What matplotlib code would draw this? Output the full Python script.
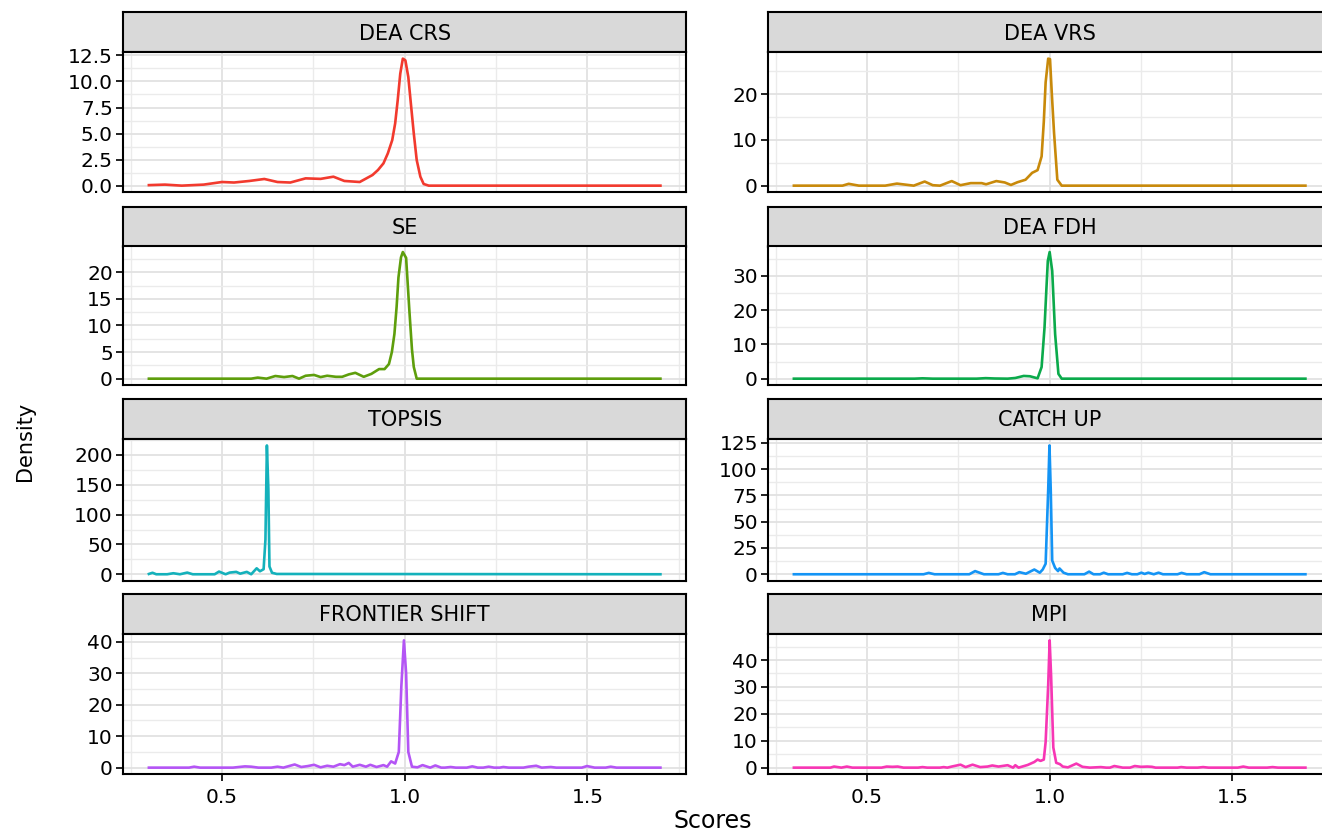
import matplotlib
matplotlib.use("Agg")
import matplotlib.pyplot as plt
from matplotlib.ticker import MultipleLocator, AutoMinorLocator, FormatStrFormatter

plt.rcParams['font.family'] = ['DejaVu Sans']

# ---------------- data ----------------
panel_names = ["DEA CRS", "DEA VRS", "SE", "DEA FDH",
               "TOPSIS", "CATCH UP", "FRONTIER SHIFT", "MPI"]
panel_colors = ["#F23A2E", "#C8890A", "#5E9E0C", "#0BAA4B",
                "#14B1BB", "#1494F5", "#B455F5", "#F736B4"]
y_steps = [2.5, 10, 5, 10, 50, 25, 10, 10]
y_formats = ["%.1f", "%d", "%d", "%d", "%d", "%d", "%d", "%d"]

crs_x = [0.30, 0.344, 0.39, 0.45, 0.50, 0.533, 0.575, 0.616, 0.652, 0.687, 0.729,
         0.77, 0.805, 0.835, 0.877, 0.912, 0.927, 0.942, 0.954, 0.966, 0.974, 0.981,
         0.988, 0.995, 1.002, 1.010, 1.017, 1.025, 1.033, 1.043, 1.052, 1.066, 1.10, 1.70]
crs_y = [0.05, 0.1, 0.0, 0.1, 0.35, 0.3, 0.45, 0.64, 0.35, 0.3, 0.7,
         0.65, 0.86, 0.45, 0.35, 1.02, 1.5, 2.14, 3.1, 4.37, 5.97, 8.2,
         10.75, 12.19, 12.03, 10.43, 7.88, 5.01, 2.46, 0.86, 0.16, 0.0, 0.0, 0.0]

vrs_x = [0.30, 0.433, 0.45, 0.478, 0.55, 0.582, 0.628, 0.658, 0.68, 0.70, 0.732,
         0.756, 0.784, 0.814, 0.826, 0.854, 0.877, 0.894, 0.912, 0.934, 0.952,
         0.967, 0.978, 0.984, 0.989, 0.996, 1.001, 1.006, 1.012, 1.021, 1.033, 1.70]
vrs_y = [0.0, 0.0, 0.4, 0.0, 0.0, 0.45, 0.0, 0.9, 0.1, 0.0, 1.0,
         0.1, 0.55, 0.55, 0.3, 1.0, 0.7, 0.15, 0.75, 1.3, 2.8,
         3.4, 6.4, 14.0, 22.6, 27.8, 27.7, 20.0, 11.6, 1.3, 0.0, 0.0]

se_x = [0.30, 0.58, 0.598, 0.622, 0.646, 0.67, 0.693, 0.711, 0.729, 0.752, 0.77,
        0.788, 0.812, 0.829, 0.847, 0.865, 0.888, 0.909, 0.93, 0.945, 0.957,
        0.965, 0.972, 0.978, 0.983, 0.990, 0.995, 1.004, 1.013, 1.020, 1.025, 1.033, 1.70]
se_y = [0.0, 0.0, 0.2, 0.0, 0.5, 0.3, 0.5, 0.0, 0.55, 0.7, 0.3,
        0.55, 0.35, 0.35, 0.8, 1.1, 0.35, 0.9, 1.8, 1.8, 2.75,
        5.0, 8.4, 13.5, 19.0, 22.8, 23.8, 22.7, 12.7, 5.5, 2.2, 0.0, 0.0]

fdh_x = [0.30, 0.63, 0.652, 0.68, 0.80, 0.825, 0.85, 0.885, 0.906, 0.929, 0.946,
         0.967, 0.978, 0.986, 0.991, 0.995, 1.0, 1.007, 1.015, 1.024, 1.033, 1.70]
fdh_y = [0.0, 0.0, 0.1, 0.0, 0.0, 0.15, 0.05, 0.0, 0.2, 0.8, 0.7,
         0.1, 3.4, 15.0, 26.0, 34.4, 37.0, 31.5, 13.0, 1.4, 0.0, 0.0]

topsis_x = [0.30, 0.31, 0.32, 0.35, 0.367, 0.385, 0.405, 0.42, 0.48, 0.492, 0.51,
            0.521, 0.539, 0.55, 0.568, 0.58, 0.595, 0.604, 0.614, 0.619, 0.623,
            0.627, 0.63, 0.637, 0.65, 1.70]
topsis_y = [0.5, 2.5, 0.0, 0.0, 1.7, 0.0, 2.8, 0.0, 0.0, 4.5, 0.0,
            2.8, 4.0, 1.0, 4.0, 0.0, 10.0, 5.0, 8.5, 58.0, 216.0,
            143.0, 13.0, 2.5, 0.5, 0.0]

catch_x = [0.30, 0.655, 0.669, 0.685, 0.78, 0.796, 0.82, 0.86, 0.872, 0.885, 0.905,
           0.917, 0.935, 0.958, 0.973, 0.981, 0.989, 0.996, 0.9995, 1.003, 1.007,
           1.015, 1.023, 1.027, 1.038, 1.05, 1.095, 1.108, 1.12, 1.138, 1.148, 1.16,
           1.20, 1.212, 1.225, 1.24, 1.251, 1.26, 1.27, 1.285, 1.298, 1.31, 1.35,
           1.361, 1.375, 1.41, 1.423, 1.44, 1.70]
catch_y = [0.0, 0.0, 1.3, 0.0, 0.0, 3.0, 0.0, 0.0, 1.3, 0.0, 0.0,
           2.0, 0.5, 4.5, 1.5, 4.5, 10.0, 80.0, 122.5, 80.0, 13.0,
           6.0, 3.0, 5.5, 1.5, 0.0, 0.0, 2.5, 0.0, 0.0, 1.5, 0.0,
           0.0, 1.3, 0.0, 0.0, 1.5, 0.3, 1.5, 0.0, 1.5, 0.0, 0.0,
           1.3, 0.0, 0.0, 2.0, 0.0, 0.0]

fs_x = [0.30, 0.41, 0.424, 0.44, 0.53, 0.563, 0.58, 0.60, 0.635, 0.652, 0.668,
        0.699, 0.717, 0.735, 0.752, 0.77, 0.788, 0.805, 0.823, 0.835, 0.847,
        0.858, 0.877, 0.894, 0.906, 0.923, 0.942, 0.952, 0.963, 0.974, 0.984,
        0.991, 0.998, 1.004, 1.010, 1.020, 1.035, 1.049, 1.07, 1.084, 1.10,
        1.11, 1.126, 1.14, 1.17, 1.185, 1.20, 1.215, 1.23, 1.245, 1.26, 1.27,
        1.285, 1.325, 1.339, 1.36, 1.375, 1.40, 1.415, 1.485, 1.499, 1.52,
        1.55, 1.564, 1.58, 1.70]
fs_y = [0.0, 0.0, 0.3, 0.0, 0.0, 0.4, 0.3, 0.0, 0.0, 0.3, 0.0,
        1.0, 0.2, 0.5, 0.9, 0.1, 0.6, 0.3, 1.1, 0.8, 1.5,
        0.3, 0.9, 0.3, 0.9, 0.2, 0.8, 0.3, 2.0, 1.3, 5.0,
        26.0, 40.5, 30.0, 5.0, 0.3, 0.1, 0.8, 0.0, 0.7, 0.0,
        0.0, 0.2, 0.0, 0.0, 0.4, 0.0, 0.0, 0.3, 0.0, 0.0, 0.2,
        0.0, 0.0, 0.3, 0.6, 0.0, 0.2, 0.0, 0.0, 0.5, 0.0,
        0.0, 0.3, 0.0, 0.0]

mpi_x = [0.30, 0.40, 0.41, 0.43, 0.445, 0.46, 0.54, 0.554, 0.57, 0.584, 0.60,
         0.64, 0.652, 0.665, 0.70, 0.71, 0.72, 0.732, 0.756, 0.77, 0.789, 0.81,
         0.83, 0.843, 0.86, 0.885, 0.90, 0.906, 0.915, 0.94, 0.958, 0.967, 0.975,
         0.984, 0.989, 0.996, 1.0, 1.004, 1.01, 1.018, 1.028, 1.036, 1.05, 1.073,
         1.09, 1.11, 1.14, 1.155, 1.165, 1.177, 1.20, 1.22, 1.233, 1.25, 1.267,
         1.28, 1.29, 1.35, 1.36, 1.375, 1.405, 1.42, 1.435, 1.515, 1.53, 1.545,
         1.595, 1.61, 1.625, 1.70]
mpi_y = [0.0, 0.0, 0.4, 0.0, 0.4, 0.0, 0.0, 0.4, 0.3, 0.4, 0.0,
         0.0, 0.2, 0.0, 0.0, 0.2, 0.0, 0.4, 1.1, 0.2, 1.1, 0.2,
         0.4, 0.8, 0.4, 0.9, 0.0, 0.9, 0.0, 1.0, 2.1, 3.0, 2.5,
         3.0, 9.5, 30.6, 47.3, 34.0, 7.5, 1.8, 1.3, 0.4, 0.1, 1.5,
         0.3, 0.0, 0.2, 0.0, 0.0, 0.6, 0.0, 0.0, 0.6, 0.3, 0.4,
         0.3, 0.0, 0.0, 0.2, 0.0, 0.0, 0.2, 0.0, 0.0, 0.4, 0.0,
         0.0, 0.2, 0.0, 0.0]

x_major_step = 0.5
x_minor_step = 0.25

series_x = [crs_x, vrs_x, se_x, fdh_x, topsis_x, catch_x, fs_x, mpi_x]
series_y = [crs_y, vrs_y, se_y, fdh_y, topsis_y, catch_y, fs_y, mpi_y]

# ---------------- layout (pixels) ----------------
W, H = 1322, 834
fig = plt.figure(figsize=(W / 100, H / 100), dpi=100)
fig.patch.set_facecolor("white")

col_left = [123.3, 768.3]
col_w = 562.7
strip_tops = [12.3, 206.7, 399.0, 594.0]
strip_h = 40.0
panel_tops = [52.3, 245.7, 439.0, 634.0]
panel_h = [139.7, 139.3, 141.7, 140.0]


def frac(x0, y0, w, h):
    return [x0 / W, 1 - (y0 + h) / H, w / W, h / H]


for i, name in enumerate(panel_names):
    r, c = divmod(i, 2)
    # strip
    ax_s = fig.add_axes(frac(col_left[c], strip_tops[r], col_w, strip_h))
    ax_s.set_facecolor("#D9D9D9")
    ax_s.set_xticks([])
    ax_s.set_yticks([])
    for sp in ax_s.spines.values():
        sp.set_linewidth(1.5)
        sp.set_color("black")
    ax_s.text(0.5, 0.47, name, ha="center", va="center", fontsize=15,
              color="black", transform=ax_s.transAxes)

    # panel
    ax = fig.add_axes(frac(col_left[c], panel_tops[r], col_w, panel_h[r]))
    ax.set_facecolor("white")
    ax.plot(series_x[i], series_y[i], color=panel_colors[i], lw=1.9,
            solid_joinstyle="round", zorder=3)
    ax.margins(x=0.05, y=0.05)
    ax.set_axisbelow(True)
    ax.xaxis.set_major_locator(MultipleLocator(x_major_step))
    ax.xaxis.set_minor_locator(MultipleLocator(x_minor_step))
    ax.yaxis.set_major_locator(MultipleLocator(y_steps[i]))
    ax.yaxis.set_minor_locator(AutoMinorLocator(2))
    ax.yaxis.set_major_formatter(FormatStrFormatter(y_formats[i]))
    ax.xaxis.set_major_formatter(FormatStrFormatter("%.1f"))
    ax.grid(which="major", color="#E2E2E2", lw=1.3)
    ax.grid(which="minor", color="#EBEBEB", lw=1.0)
    ax.tick_params(which="minor", length=0)
    ax.tick_params(which="major", length=5, width=1.4, color="#222222",
                   labelsize=14.5, labelcolor="black", pad=2.5)
    if r < 3:
        ax.tick_params(axis="x", which="major", length=0, labelbottom=False)
    else:
        ax.tick_params(axis="x", which="major", pad=5)
    for sp in ax.spines.values():
        sp.set_linewidth(1.5)
        sp.set_color("black")

fig.text(713 / W, 1 - 821 / H, "Scores", ha="center", va="center",
         fontsize=17, color="black")
fig.text(25 / W, 1 - 441 / H, "Density", ha="center", va="center",
         rotation=90, fontsize=15, color="black")

fig.savefig("out.png", dpi=100, facecolor="white")
